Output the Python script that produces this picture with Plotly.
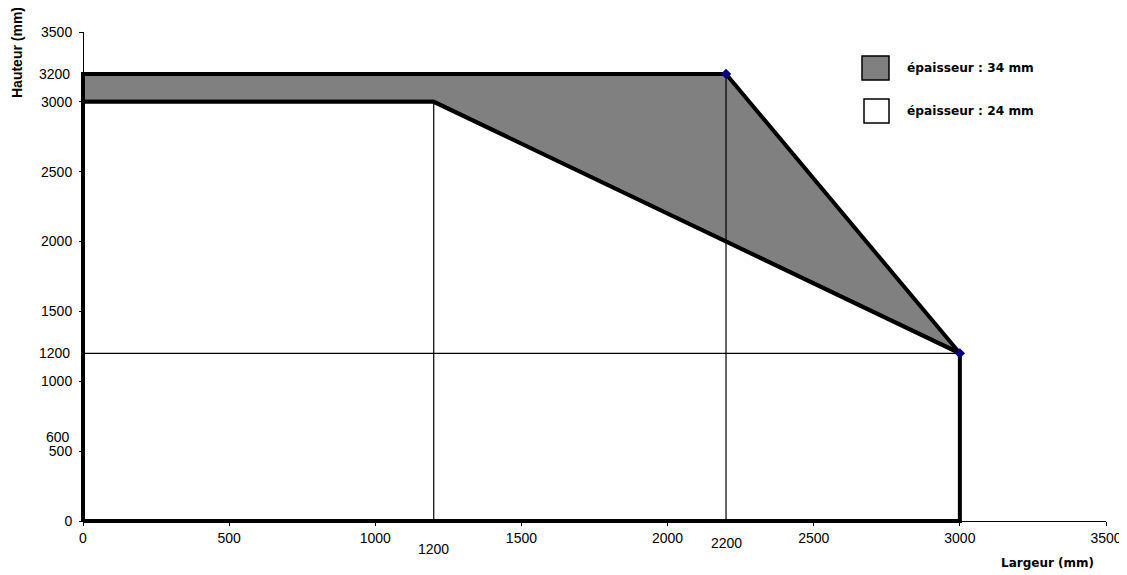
import plotly.graph_objects as go

# zone epaisseur 24 mm (blanc)
zone24_x = [0, 0, 1200, 3000, 3000, 0]
zone24_y = [0, 3000, 3000, 1200, 0, 0]
# zone epaisseur 34 mm (gris)
zone34_x = [0, 0, 2200, 3000, 1200, 0]
zone34_y = [3000, 3200, 3200, 1200, 3000, 3000]
# lignes de repere
guide_vx = [1200, 2200]
guide_vtop = [3000, 3200]
guide_hy = [1200]
guide_hright = [3000]
# points
pts_x = [2200, 3000]
pts_y = [3200, 1200]

x_ticks = [0, 500, 1000, 1500, 2000, 2500, 3000, 3500]
y_ticks = [0, 500, 1000, 1500, 2000, 2500, 3000, 3500]
x_extra = [1200, 2200]
y_extra = [600, 1200, 3200]
legend_labels = ["épaisseur : 34 mm", "épaisseur : 24 mm"]

W, H = 1127, 575
OFF = 8  # marge du body html
X0, X1 = 83 - OFF, 1106 - OFF   # pixels de x=0 et x=3500
Y0, Y1 = 521 - OFF, 32 - OFF    # pixels de y=0 et y=3500
PAD = 3
ML, MT = X0 - PAD, Y1
MR, MB = W - X1, H - (Y0 + PAD)
PW, PH = W - ML - MR, H - MT - MB
sx = (X1 - X0) / 3500
sy = (Y0 - Y1) / 3500
xr = [-PAD / sx, 3500]
yr = [-PAD / sy, 3500]


def px(x):
    return (x - OFF - ML) / PW


def py(y):
    return (H - MB - (y - OFF)) / PH


TICKFONT = dict(family="Liberation Sans, Arial", size=14, color="#000")
BOLD = "DejaVu Sans"

fig = go.Figure()

fig.add_trace(go.Scatter(
    x=zone34_x, y=zone34_y, mode="lines", fill="toself",
    fillcolor="#808080", line=dict(color="#000", width=4),
    showlegend=False, hoverinfo="skip",
))
fig.add_trace(go.Scatter(
    x=zone24_x, y=zone24_y, mode="lines", fill="toself",
    fillcolor="#ffffff", line=dict(color="#000", width=4),
    showlegend=False, hoverinfo="skip",
))

for gx, top in zip(guide_vx, guide_vtop):
    fig.add_trace(go.Scatter(
        x=[gx, gx], y=[0, top], mode="lines",
        line=dict(color="#000", width=1.2), showlegend=False, hoverinfo="skip",
    ))
for gy, right in zip(guide_hy, guide_hright):
    fig.add_trace(go.Scatter(
        x=[0, right], y=[gy, gy], mode="lines",
        line=dict(color="#000", width=1.2), showlegend=False, hoverinfo="skip",
    ))

fig.add_trace(go.Scatter(
    x=pts_x, y=pts_y, mode="markers",
    marker=dict(symbol="diamond", size=8, color="#000080"),
    showlegend=False, cliponaxis=False,
))

for v in y_extra:
    fig.add_annotation(x=px(72), xref="paper", y=v, yref="y", text=str(v),
                       showarrow=False, xanchor="right", yanchor="middle", font=TICKFONT)
x_extra_y = [549, 543]
for v, yy in zip(x_extra, x_extra_y):
    fig.add_annotation(x=v, xref="x", y=py(yy), yref="paper", text=str(v),
                       showarrow=False, xanchor="center", yanchor="middle", font=TICKFONT)

# legende
boxes = [(862, 56, 889, 80, "#808080"), (864, 99, 889, 123, "#ffffff")]
for (x0, y0, x1, y1, c), lab in zip(boxes, legend_labels):
    fig.add_shape(type="rect", xref="paper", yref="paper",
                  x0=px(x0), x1=px(x1), y0=py(y1), y1=py(y0),
                  fillcolor=c, line=dict(color="#000", width=1.5))
    fig.add_annotation(x=px(905), y=py((y0 + y1) / 2), xref="paper", yref="paper",
                       text=f"<b>{lab}</b>", showarrow=False,
                       xanchor="left", yanchor="middle",
                       font=dict(family=BOLD, size=12.2, color="#000"))

fig.add_annotation(x=px(17), y=py(53), xref="paper", yref="paper",
                   text="<b>Hauteur (mm)</b>", textangle=-90, showarrow=False,
                   xanchor="center", yanchor="middle",
                   font=dict(family="Liberation Sans, Arial", size=14, color="#000"))
fig.add_annotation(x=px(1047), y=py(563), xref="paper", yref="paper",
                   text="<b>Largeur (mm)</b>", showarrow=False,
                   xanchor="center", yanchor="middle",
                   font=dict(family=BOLD, size=12, color="#000"))

fig.update_layout(
    width=W, height=H,
    paper_bgcolor="#fff", plot_bgcolor="#fff",
    margin=dict(l=ML, r=MR, t=MT, b=MB),
    xaxis=dict(range=xr, tickvals=x_ticks, showgrid=False, zeroline=False,
               showline=True, linecolor="#000", linewidth=1,
               ticks="outside", ticklen=4, tickcolor="#000",
               tickfont=TICKFONT, anchor="free", position=PAD / PH,
               ticklabelstandoff=0),
    yaxis=dict(range=yr, tickvals=y_ticks, showgrid=False, zeroline=False,
               showline=True, linecolor="#000", linewidth=1,
               ticks="outside", ticklen=4, tickcolor="#000",
               tickfont=TICKFONT, anchor="free", position=PAD / PW,
               ticklabelstandoff=4),
    showlegend=False,
)

fig.write_html("out.html")
